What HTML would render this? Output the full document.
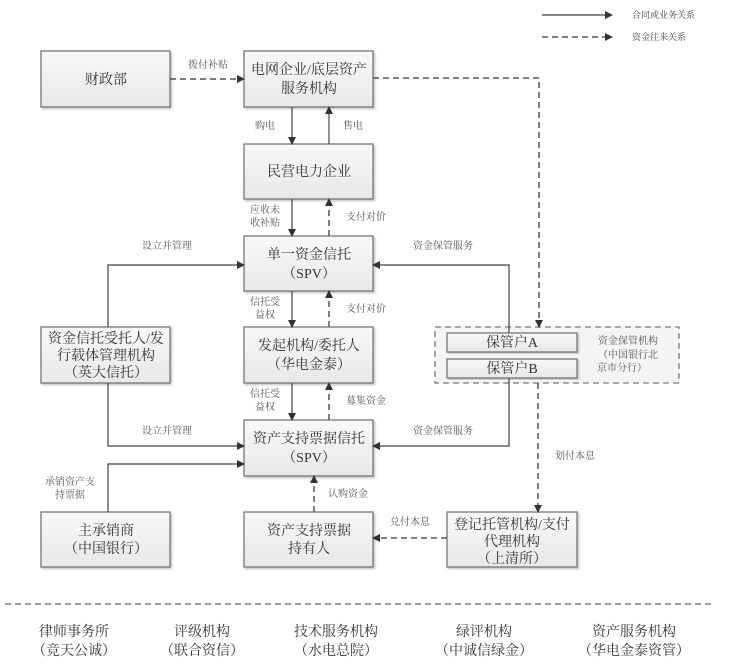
<!DOCTYPE html>
<html><head><meta charset="utf-8"><style>
html,body{margin:0;padding:0;background:#fff;}
svg{display:block;font-family:"Liberation Serif","Noto Serif CJK SC","Noto Sans CJK SC",serif;}
.b{fill:url(#g);stroke:#777;stroke-width:1.3;filter:url(#s);}
.t{font-size:14px;fill:#333;text-anchor:middle;}
.l{font-size:10px;fill:#555;text-anchor:middle;}
.ln{stroke:#444;stroke-width:1.2;fill:none;}
.d{stroke:#555;stroke-width:1.5;fill:none;stroke-dasharray:6,4;}
</style></head><body>
<svg width="737" height="672" viewBox="0 0 737 672">
<defs>
<linearGradient id="g" x1="0" y1="0" x2="0" y2="1"><stop offset="0" stop-color="#f8f8f8"/><stop offset="1" stop-color="#e8e8e8"/></linearGradient>
<filter id="s" x="-5%" y="-5%" width="115%" height="115%"><feDropShadow dx="1.5" dy="1.5" stdDeviation="1" flood-color="#999" flood-opacity="0.6"/></filter>
<marker id="a" markerWidth="8" markerHeight="8" refX="7" refY="4" orient="auto" markerUnits="userSpaceOnUse"><path d="M0,0 L8,4 L0,8 z" fill="#333"/></marker>
</defs>
<!-- legend -->
<line x1="542" y1="15" x2="612" y2="15" class="ln" marker-end="url(#a)"/>
<text x="632" y="18" style="font-size:9px;fill:#444">合同或业务关系</text>
<line x1="542" y1="37" x2="612" y2="37" class="d" marker-end="url(#a)"/>
<text x="632" y="40" style="font-size:9px;fill:#444">资金往来关系</text>

<!-- boxes -->
<rect class="b" x="41" y="51" width="129" height="56"/>
<text class="t" x="106" y="84">财政部</text>
<rect class="b" x="244" y="51" width="129" height="56"/>
<text class="t" x="309" y="74">电网企业/底层资产</text>
<text class="t" x="309" y="93">服务机构</text>
<rect class="b" x="244" y="144" width="129" height="55"/>
<text class="t" x="309" y="176">民营电力企业</text>
<rect class="b" x="244" y="236" width="129" height="55"/>
<text class="t" x="309" y="259">单一资金信托</text>
<text class="t" x="309" y="278">（SPV）</text>
<rect class="b" x="244" y="327" width="129" height="56"/>
<text class="t" x="309" y="350">发起机构/委托人</text>
<text class="t" x="309" y="369">（华电金泰）</text>
<rect class="b" x="41" y="327" width="129" height="56"/>
<text class="t" x="106" y="343">资金信托受托人/发</text>
<text class="t" x="106" y="360">行载体管理机构</text>
<text class="t" x="106" y="377">（英大信托）</text>
<rect class="b" x="244" y="420" width="129" height="56"/>
<text class="t" x="309" y="443">资产支持票据信托</text>
<text class="t" x="309" y="462">（SPV）</text>
<rect class="b" x="41" y="512" width="129" height="55"/>
<text class="t" x="106" y="535">主承销商</text>
<text class="t" x="106" y="553">（中国银行）</text>
<rect class="b" x="244" y="512" width="129" height="55"/>
<text class="t" x="309" y="535">资产支持票据</text>
<text class="t" x="309" y="553">持有人</text>
<rect class="b" x="447" y="512" width="130" height="55"/>
<text class="t" x="512" y="529">登记托管机构/支付</text>
<text class="t" x="512" y="546">代理机构</text>
<text class="t" x="512" y="563">（上清所）</text>

<rect x="435" y="327" width="244" height="56" fill="#f4f4f4" stroke="#777" stroke-width="1.3" stroke-dasharray="6,4"/>
<rect class="b" x="447" y="333" width="130" height="19"/>
<text class="t" x="512" y="347">保管户A</text>
<rect class="b" x="447" y="359" width="130" height="19"/>
<text class="t" x="512" y="373">保管户B</text>
<text class="l" x="628" y="344">资金保管机构</text>
<text class="l" x="628" y="358">（中国银行北</text>
<text class="l" x="622" y="371">京市分行）</text>

<!-- connectors -->
<line x1="170" y1="79" x2="244" y2="79" class="d" marker-end="url(#a)"/>
<text class="l" x="208" y="68">拨付补贴</text>
<polyline points="373,78 539,78 539,327" class="d" marker-end="url(#a)"/>
<line x1="292" y1="107" x2="292" y2="144" class="ln" marker-end="url(#a)"/>
<line x1="329" y1="144" x2="329" y2="107" class="ln" marker-end="url(#a)"/>
<text class="l" x="265" y="129">购电</text>
<text class="l" x="353" y="129">售电</text>
<line x1="292" y1="199" x2="292" y2="236" class="ln" marker-end="url(#a)"/>
<line x1="329" y1="236" x2="329" y2="199" class="d" marker-end="url(#a)"/>
<text class="l" x="265" y="213">应收未</text>
<text class="l" x="265" y="226">收补贴</text>
<text class="l" x="366" y="220">支付对价</text>
<line x1="292" y1="291" x2="292" y2="327" class="ln" marker-end="url(#a)"/>
<line x1="329" y1="327" x2="329" y2="291" class="d" marker-end="url(#a)"/>
<text class="l" x="265" y="305">信托受</text>
<text class="l" x="265" y="318">益权</text>
<text class="l" x="366" y="312">支付对价</text>
<line x1="292" y1="383" x2="292" y2="420" class="ln" marker-end="url(#a)"/>
<line x1="329" y1="420" x2="329" y2="383" class="d" marker-end="url(#a)"/>
<text class="l" x="265" y="397">信托受</text>
<text class="l" x="265" y="410">益权</text>
<text class="l" x="366" y="404">募集资金</text>
<polyline points="108,327 108,265 244,265" class="ln" marker-end="url(#a)"/>
<text class="l" x="167" y="249">设立并管理</text>
<polyline points="108,383 108,446 244,446" class="ln" marker-end="url(#a)"/>
<text class="l" x="167" y="434">设立并管理</text>
<polyline points="108,512 108,464 244,464" class="ln" marker-end="url(#a)"/>
<text class="l" x="70" y="485">承销资产支</text>
<text class="l" x="70" y="498">持票据</text>
<polyline points="509,333 509,265 373,265" class="ln" marker-end="url(#a)"/>
<text class="l" x="443" y="249">资金保管服务</text>
<polyline points="509,378 509,446 373,446" class="ln" marker-end="url(#a)"/>
<text class="l" x="443" y="434">资金保管服务</text>
<line x1="538" y1="383" x2="538" y2="512" class="d" marker-end="url(#a)"/>
<text class="l" x="575" y="459">划付本息</text>
<line x1="447" y1="538" x2="373" y2="538" class="d" marker-end="url(#a)"/>
<text class="l" x="410" y="525">兑付本息</text>
<line x1="314" y1="512" x2="314" y2="476" class="d" marker-end="url(#a)"/>
<text class="l" x="348" y="497">认购资金</text>

<!-- bottom -->
<line x1="5" y1="604" x2="713" y2="604" stroke="#666" stroke-width="1.3" stroke-dasharray="6,4"/>
<g class="t">
<text class="t" x="74" y="636">律师事务所</text><text class="t" x="74" y="655">（竞天公诚）</text>
<text class="t" x="202" y="636">评级机构</text><text class="t" x="202" y="655">（联合资信）</text>
<text class="t" x="336" y="636">技术服务机构</text><text class="t" x="336" y="655">（水电总院）</text>
<text class="t" x="484" y="636">绿评机构</text><text class="t" x="484" y="655">（中诚信绿金）</text>
<text class="t" x="634" y="636">资产服务机构</text><text class="t" x="634" y="655">（华电金泰资管）</text>
</g>
</svg>
</body></html>
